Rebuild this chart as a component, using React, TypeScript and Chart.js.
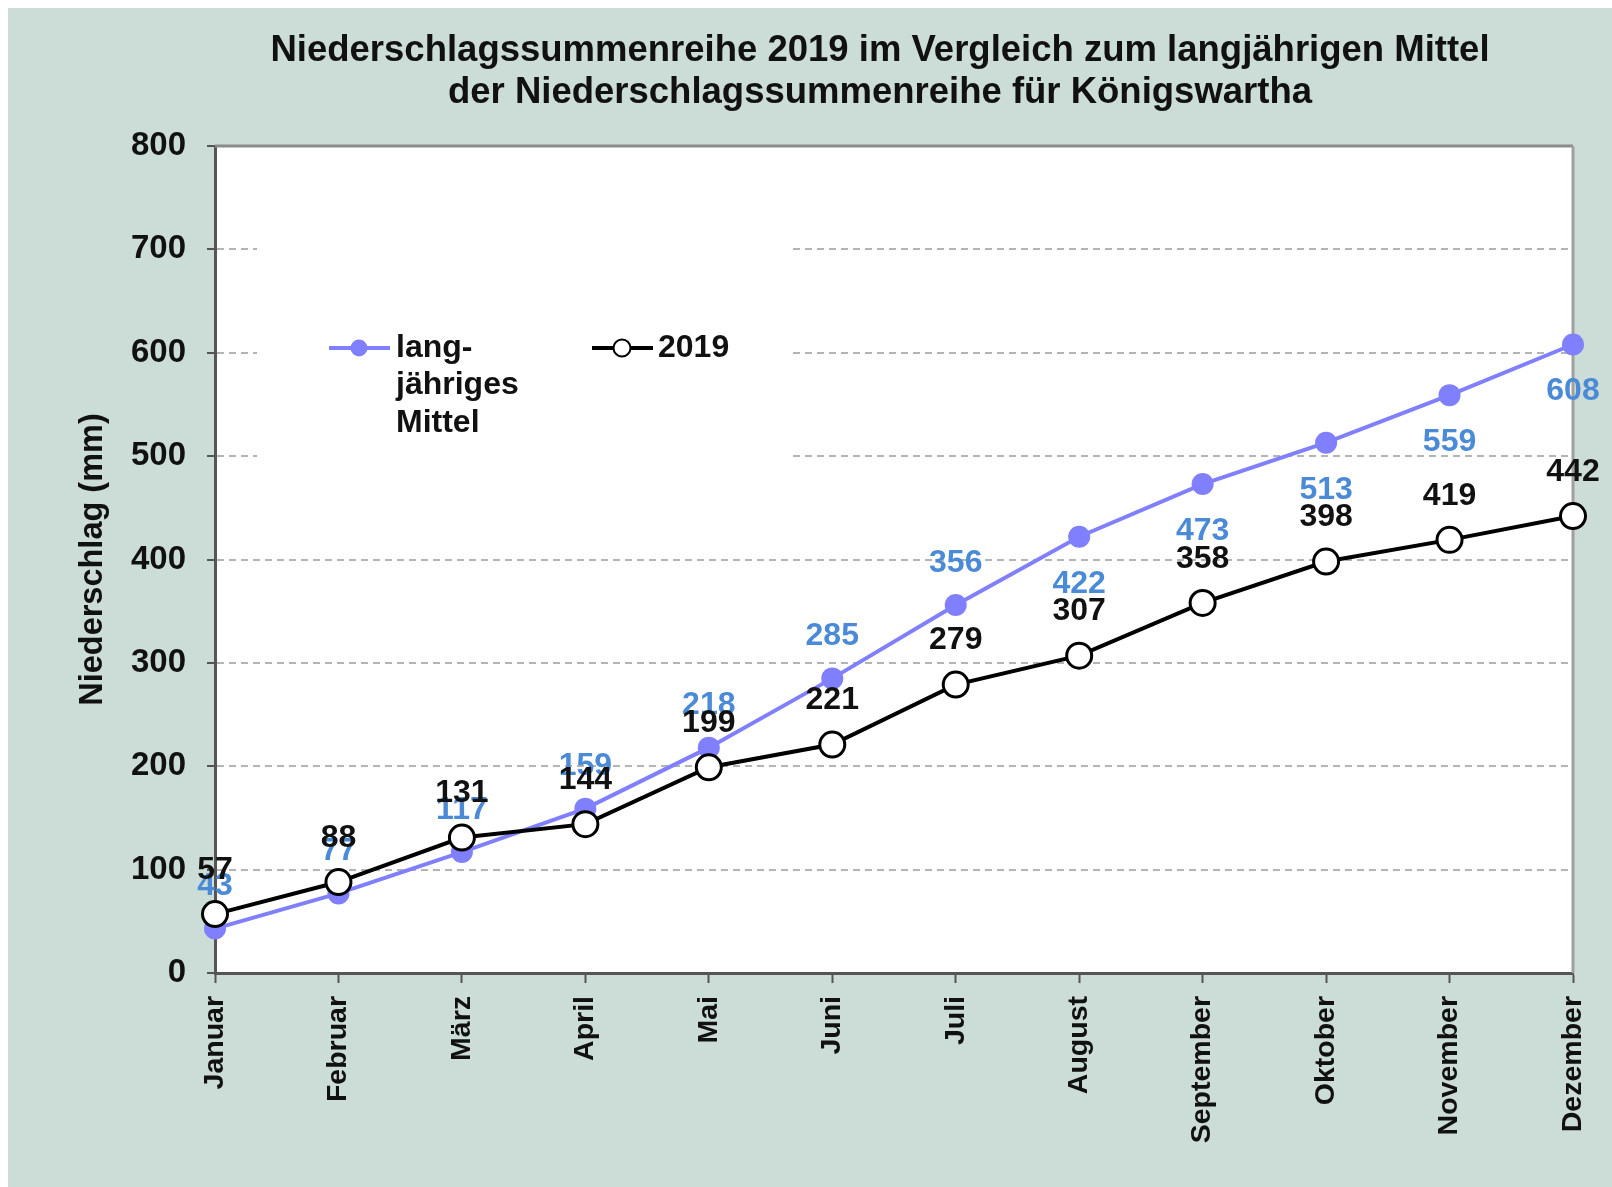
import React, { useEffect, useRef } from 'react';
import { Chart, registerables } from 'chart.js';

Chart.register(...registerables);

// ---- data ----
const months = ['Januar', 'Februar', 'März', 'April', 'Mai', 'Juni', 'Juli', 'August', 'September', 'Oktober', 'November', 'Dezember'];
const mittelValues = [43, 77, 117, 159, 218, 285, 356, 422, 473, 513, 559, 608];
const values2019 = [57, 88, 131, 144, 199, 221, 279, 307, 358, 398, 419, 442];
const yMin = 0;
const yMax = 800;
const yStep = 100;
const titleLines = ['Niederschlagssummenreihe 2019 im Vergleich zum langjährigen Mittel', 'der Niederschlagssummenreihe für Königswartha'];
const yAxisTitle = 'Niederschlag (mm)';
const mittelLegendLines = ['lang-', 'jähriges', 'Mittel'];
const legend2019 = '2019';
// label placement per point of the long-term mean series
const mittelLabelSide = ['above', 'above', 'above', 'above', 'above', 'above', 'above', 'below', 'below', 'below', 'below', 'below'];

const FONT = '"Liberation Sans", Arial, sans-serif';
const BG = '#ccddd7';
const BLUE_LINE = '#8080ff';
const BLUE_TEXT = '#4a8ad6';
const AXIS = '#555555';

export default function App() {
  const ref = useRef<HTMLCanvasElement | null>(null);

  useEffect(() => {
    if (!ref.current) return;

    const bgPlugin = {
      id: 'bgPlugin',
      beforeDraw(chart: any) {
        const { ctx, chartArea } = chart;
        ctx.save();
        ctx.fillStyle = BG;
        ctx.fillRect(0, 0, chart.width, chart.height);
        ctx.fillStyle = '#ffffff';
        ctx.fillRect(chartArea.left, chartArea.top, chartArea.right - chartArea.left, chartArea.bottom - chartArea.top);
        // title
        ctx.fillStyle = '#111111';
        ctx.font = `bold 36.5px ${FONT}`;
        ctx.textAlign = 'center';
        ctx.textBaseline = 'middle';
        const cx = 872;
        titleLines.forEach((t, i) => ctx.fillText(t, cx, 43 + i * 42));
        ctx.restore();
      },
    };

    const framePlugin = {
      id: 'framePlugin',
      beforeDatasetsDraw(chart: any) {
        const { ctx, chartArea } = chart;
        ctx.save();
        // legend white box (interrupts gridlines)
        ctx.fillStyle = '#ffffff';
        ctx.fillRect(249, 205, 535, 290);
        // top & right frame
        ctx.lineWidth = 3;
        ctx.strokeStyle = '#8a8a8a';
        ctx.beginPath();
        ctx.moveTo(chartArea.left, chartArea.top);
        ctx.lineTo(chartArea.right, chartArea.top);
        ctx.stroke();
        ctx.strokeStyle = '#a0a0a0';
        ctx.beginPath();
        ctx.moveTo(chartArea.right, chartArea.top);
        ctx.lineTo(chartArea.right, chartArea.bottom);
        ctx.stroke();

        // legend
        const ds = chart.data.datasets;
        ctx.font = `bold 32px ${FONT}`;
        ctx.textAlign = 'left';
        ctx.textBaseline = 'middle';
        // long-term mean
        const ly = 340;
        ctx.strokeStyle = ds[0].borderColor;
        ctx.lineWidth = 4;
        ctx.beginPath();
        ctx.moveTo(321, ly);
        ctx.lineTo(382, ly);
        ctx.stroke();
        ctx.fillStyle = ds[0].pointBackgroundColor;
        ctx.beginPath();
        ctx.arc(351, ly, 8.5, 0, Math.PI * 2);
        ctx.fill();
        ctx.fillStyle = '#111111';
        mittelLegendLines.forEach((t, i) => ctx.fillText(t, 388, ly + i * 37.5));
        // 2019
        ctx.strokeStyle = ds[1].borderColor;
        ctx.lineWidth = 4;
        ctx.beginPath();
        ctx.moveTo(584, ly);
        ctx.lineTo(645, ly);
        ctx.stroke();
        ctx.fillStyle = '#ffffff';
        ctx.lineWidth = 2;
        ctx.beginPath();
        ctx.arc(614, ly, 8.5, 0, Math.PI * 2);
        ctx.fill();
        ctx.stroke();
        ctx.fillStyle = '#111111';
        ctx.fillText(legend2019, 650, ly);
        ctx.restore();
      },
    };

    const labelPlugin = {
      id: 'labelPlugin',
      afterDatasetsDraw(chart: any) {
        const { ctx } = chart;
        ctx.save();
        ctx.font = `bold 32px ${FONT}`;
        ctx.textAlign = 'center';
        ctx.textBaseline = 'middle';
        const m0 = chart.getDatasetMeta(0);
        ctx.fillStyle = BLUE_TEXT;
        m0.data.forEach((el: any, i: number) => {
          const dy = mittelLabelSide[i] === 'above' ? -42 : 47;
          ctx.fillText(String(mittelValues[i]), el.x, el.y + dy);
        });
        const m1 = chart.getDatasetMeta(1);
        ctx.fillStyle = '#111111';
        m1.data.forEach((el: any, i: number) => {
          ctx.fillText(String(values2019[i]), el.x, el.y - 44);
        });
        ctx.restore();
      },
    };

    const chart = new Chart(ref.current, {
      type: 'line',
      data: {
        labels: months,
        datasets: [
          {
            label: 'langjähriges Mittel',
            data: mittelValues,
            borderColor: BLUE_LINE,
            backgroundColor: BLUE_LINE,
            pointBackgroundColor: BLUE_LINE,
            pointBorderColor: BLUE_LINE,
            pointBorderWidth: 0,
            pointRadius: 11,
            borderWidth: 4,
            tension: 0,
            order: 2,
          },
          {
            label: '2019',
            data: values2019,
            borderColor: '#000000',
            backgroundColor: '#ffffff',
            pointBackgroundColor: '#ffffff',
            pointBorderColor: '#000000',
            pointBorderWidth: 3,
            pointRadius: 12.5,
            borderWidth: 4,
            tension: 0,
            order: 1,
          },
        ],
      },
      options: {
        animation: false,
        responsive: true,
        maintainAspectRatio: false,
        layout: { padding: { top: 138, right: 39, left: 0, bottom: 0 } },
        plugins: {
          legend: { display: false },
          title: { display: false },
          tooltip: { enabled: false },
        },
        scales: {
          x: {
            type: 'category',
            offset: false,
            afterFit: (s: any) => {
              s.height = 214;
              s.paddingRight = 0;
              s.paddingLeft = 0;
            },
            grid: {
              display: true,
              drawOnChartArea: false,
              drawTicks: true,
              tickLength: 10,
              tickColor: AXIS,
              tickWidth: 2,
            },
            border: { display: true, color: AXIS, width: 3 },
            ticks: {
              autoSkip: false,
              minRotation: 90,
              maxRotation: 90,
              padding: 13,
              color: '#111111',
              font: { family: FONT, size: 28.5, weight: 'bold' },
            },
          },
          y: {
            min: yMin,
            max: yMax,
            afterFit: (s: any) => {
              s.width = 207;
            },
            title: {
              display: true,
              text: yAxisTitle,
              color: '#111111',
              font: { family: FONT, size: 32.5, weight: 'bold' },
              padding: { top: 66, bottom: 0 },
            },
            grid: {
              display: true,
              drawOnChartArea: true,
              color: (c: any) => (c.tick && (c.tick.value === yMin || c.tick.value === yMax) ? 'rgba(0,0,0,0)' : '#b4b4b4'),
              lineWidth: 2,
              drawTicks: true,
              tickLength: 8,
              tickColor: AXIS,
              tickWidth: 2,
              tickBorderDash: [],
            },
            border: { display: true, color: AXIS, width: 3, dash: [7, 5] },
            ticks: {
              stepSize: yStep,
              padding: 21,
              color: '#111111',
              font: { family: FONT, size: 33, weight: 'bold' },
            },
          },
        },
      },
      plugins: [bgPlugin, framePlugin, labelPlugin],
    });

    return () => chart.destroy();
  }, []);

  return (
    <div style={{ position: 'fixed', left: 8, top: 8, width: 1604, height: 1179 }}>
      <canvas ref={ref} />
    </div>
  );
}
